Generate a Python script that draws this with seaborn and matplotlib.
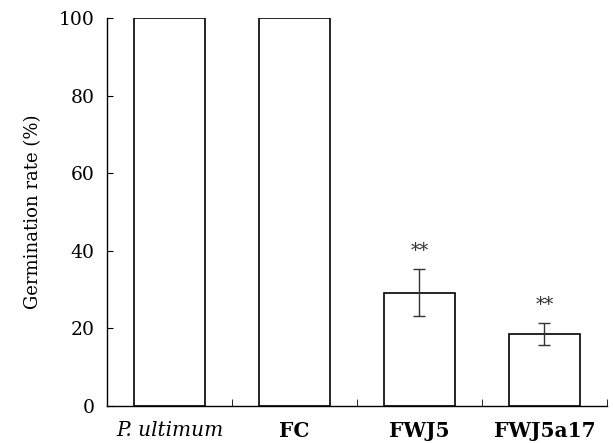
import numpy as np
import pandas as pd
import seaborn as sns
import matplotlib.pyplot as plt

sns.set_style("ticks")
plt.rcParams['font.family'] = ['DejaVu Serif']
plt.rcParams['text.color'] = 'black'
plt.rcParams['axes.labelcolor'] = 'black'
plt.rcParams['xtick.color'] = 'black'
plt.rcParams['ytick.color'] = 'black'
plt.rcParams['axes.edgecolor'] = 'black'

# data
groups = ["P. ultimum", "FC", "FWJ5", "FWJ5a17"]
rate = [100.0, 100.0, 29.2, 18.5]
err = [0.0, 0.0, 6.0, 2.8]
marks = ["", "", "**", "**"]

df = pd.DataFrame({"group": groups, "rate": rate})

fig = plt.figure(figsize=(6.13, 4.43), dpi=100)
ax = fig.add_axes([0.1746, 0.0835, 0.8154, 0.8755])

sns.barplot(data=df, x="group", y="rate", color="white", edgecolor="black",
            linewidth=1.2, width=0.57, errorbar=None, ax=ax)

# error bars for the strains
for i in range(len(groups)):
    if err[i] > 0:
        ax.errorbar(i, rate[i], yerr=err[i], fmt="none", ecolor="#333333",
                    elinewidth=1.0, capsize=4, capthick=1.0)
    if marks[i]:
        ax.text(i, rate[i] + err[i] + 2.5, marks[i], ha="center", va="bottom",
                fontsize=13, color="#333333")

ax.set_xlim(-0.5, 3.5)
ax.set_ylim(0, 100)
ax.set_yticks([0, 20, 40, 60, 80, 100])
ax.tick_params(axis="y", direction="in", length=4, labelsize=13.5, pad=9)

# category labels without ticks, small ticks between bars
ax.set_xticks(range(len(groups)))
ax.set_xticklabels(groups, fontsize=14.5, fontweight="bold")
ax.get_xticklabels()[0].set_fontstyle("italic")
ax.get_xticklabels()[0].set_fontweight("normal")
ax.tick_params(axis="x", length=0, pad=11)
ax.set_xticks([0.5, 1.5, 2.5, 3.5], minor=True)
ax.tick_params(axis="x", which="minor", direction="in", length=5)

ax.set_xlabel("")
ax.set_ylabel("Germination rate (%)", fontsize=13, labelpad=12)

sns.despine(ax=ax)
ax.spines["left"].set_linewidth(1.0)
ax.spines["bottom"].set_linewidth(1.0)

fig.savefig("out.png", dpi=100)
